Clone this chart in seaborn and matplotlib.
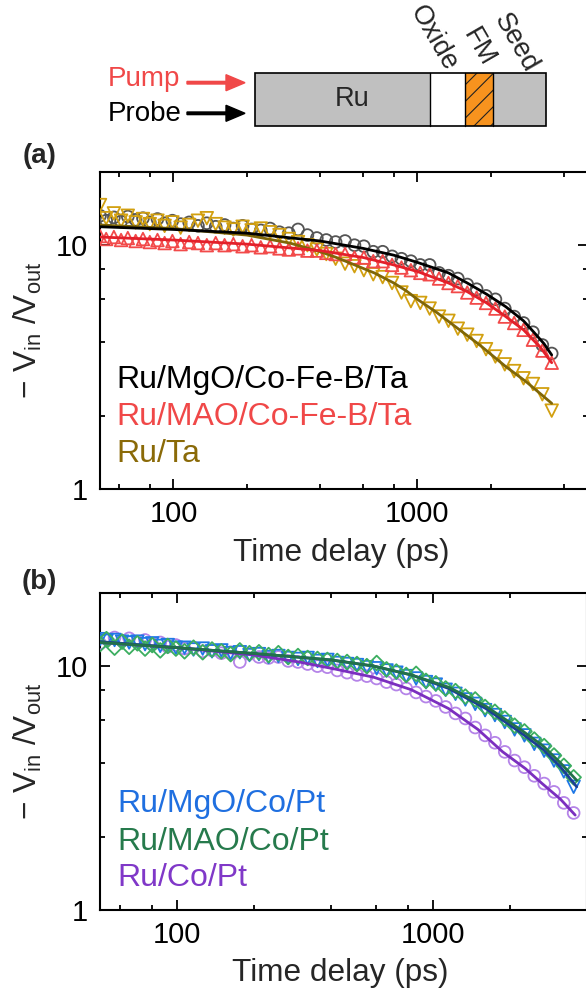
import matplotlib
matplotlib.use("Agg")
import matplotlib.pyplot as plt
import seaborn as sns
from matplotlib.patches import Rectangle
from matplotlib.ticker import NullFormatter

sns.set_style("ticks")
plt.rcParams["font.family"] = ["Liberation Sans", "DejaVu Sans"]
plt.rcParams["mathtext.fontset"] = "custom"
plt.rcParams["mathtext.rm"] = "Liberation Sans"
plt.rcParams["mathtext.it"] = "Liberation Sans"
plt.rcParams["mathtext.bf"] = "Liberation Sans:bold"
plt.rcParams["hatch.linewidth"] = 0.8

# ---------------- data ----------------
time_ps = [50, 53, 57, 61, 65, 70, 75, 80, 86, 92,
           99, 107, 116, 126, 137, 149, 162, 176, 192, 209,
           228, 249, 272, 297, 324, 354, 387, 423, 462, 505,
           552, 603, 659, 720, 787, 860, 940, 1027, 1122, 1226,
           1340, 1464, 1600, 1748, 1910, 2087, 2280, 2491, 2722, 2974,
           3250, 3550]

# panel (a)
mgo_cfb = [13.2, 12.6, 13.0, 12.5, 13.1, 12.7, 12.9, 12.4, 12.8, 12.3,
           12.6, 12.2, 12.4, 12.0, 12.3, 11.9, 12.1, 11.7, 12.0, 11.6,
           11.5, 11.7, 11.3, 11.2, 11.6, 11.0, 10.7, 10.5, 10.3, 10.4,
           10.0, 9.9, 9.4, 9.4, 9.0, 8.8, 8.6, 8.3, 8.3, 7.7,
           7.5, 7.3, 6.9, 6.6, 6.2, 6.0, 5.5, 5.1, 4.8, 4.4,
           3.9, 3.6]
mao_cfb = [10.9, 10.6, 10.8, 10.5, 10.7, 10.4, 10.6, 10.3, 10.5, 10.2,
           10.4, 10.1, 10.3, 10.2, 10.0, 10.2, 10.0, 10.1, 9.9, 10.0,
           9.8, 9.9, 9.7, 9.6, 9.7, 9.5, 9.5, 9.3, 9.2, 9.2,
           8.9, 8.9, 8.6, 8.6, 8.3, 8.1, 7.9, 7.7, 7.6, 7.3,
           7.0, 6.8, 6.4, 6.1, 5.8, 5.5, 5.1, 4.8, 4.5, 4.1,
           3.7, 3.3]
ru_ta = [14.6, 12.9, 13.5, 12.6, 13.2, 12.4, 12.8, 12.2, 12.6, 12.0,
         12.4, 11.8, 12.1, 12.6, 12.9, 12.2, 11.8, 11.6, 11.9, 11.5,
         11.7, 11.3, 11.0, 10.6, 10.3, 10.0, 9.6, 9.2, 8.8, 8.4,
         8.2, 7.9, 7.6, 7.4, 7.0, 6.4, 5.9, 5.8, 5.5, 5.1,
         4.9, 4.55, 4.3, 4.05, 3.75, 3.5, 3.25, 3.05, 2.85, 2.7,
         2.45, 2.1]

fit_mgo_cfb_t = [50, 100, 200, 400, 600, 800, 1000, 1340, 1600, 1920, 2300, 2720, 3000, 3300, 3550]
fit_mgo_cfb_v = [11.9, 11.6, 11.2, 10.4, 9.7, 9.1, 8.5, 7.7, 7.0, 6.3, 5.6, 4.9, 4.4, 3.95, 3.55]
fit_mao_cfb_t = [50, 100, 200, 400, 600, 800, 1000, 1340, 1600, 1920, 2300, 2720, 3200, 3550]
fit_mao_cfb_v = [10.8, 10.5, 10.1, 9.5, 8.9, 8.3, 7.8, 7.0, 6.45, 5.8, 5.1, 4.5, 3.8, 3.3]
fit_ru_ta_t = [50, 100, 200, 300, 400, 466, 665, 800, 900, 1000, 1200, 1467, 1800, 2285, 2800, 3550]
fit_ru_ta_v = [12.1, 11.7, 11.0, 10.2, 9.4, 8.9, 7.7, 7.0, 6.5, 6.0, 5.3, 4.55, 3.9, 3.2, 2.75, 2.25]

# panel (b)
mgo_copt = [12.9, 12.7, 12.8, 12.6, 12.5, 12.6, 12.3, 12.4, 12.1, 12.2,
            11.9, 11.9, 11.7, 11.8, 11.5, 11.6, 11.3, 11.4, 11.1, 11.2,
            10.9, 11.0, 10.8, 10.7, 10.8, 10.5, 10.6, 10.3, 10.2, 10.1,
            9.9, 9.8, 9.6, 9.4, 9.1, 8.9, 8.6, 8.4, 8.0, 7.7,
            7.3, 7.0, 6.6, 6.3, 5.9, 5.5, 5.2, 4.8, 4.5, 4.1,
            3.7, 3.2]
mao_copt = [12.3, 12.9, 11.9, 12.6, 12.0, 12.4, 11.8, 12.2, 11.6, 12.1,
            11.8, 11.5, 11.9, 11.4, 11.7, 11.5, 11.2, 11.6, 11.3, 11.4,
            11.1, 11.3, 10.9, 11.0, 10.8, 10.7, 10.6, 10.5, 10.4, 10.2,
            10.0, 10.3, 9.7, 9.5, 9.2, 9.3, 8.7, 8.5, 8.1, 7.9,
            7.5, 7.3, 6.8, 6.5, 6.1, 5.7, 5.4, 5.0, 4.7, 4.3,
            3.9, 3.5]
ru_copt = [12.4, 12.9, 13.1, 12.7, 13.0, 12.6, 12.8, 12.3, 12.5, 12.0,
           12.2, 11.8, 11.9, 11.5, 11.6, 11.3, 11.4, 10.4, 11.2, 10.9,
           10.8, 10.9, 10.5, 10.4, 10.2, 10.0, 9.9, 9.6, 9.4, 9.2,
           9.1, 8.9, 8.6, 8.4, 8.1, 7.8, 7.5, 7.2, 6.8, 6.4,
           6.1, 5.6, 5.2, 4.85, 4.45, 4.1, 3.85, 3.55, 3.3, 3.05,
           2.75, 2.5]

fit_mgo_copt_t = [50, 100, 215, 400, 588, 824, 1151, 1610, 2254, 2700, 3160, 3650]
fit_mgo_copt_v = [12.6, 11.9, 11.2, 10.6, 10.0, 9.2, 8.1, 6.7, 5.25, 4.55, 3.85, 3.2]
fit_mao_copt_t = [50, 100, 215, 400, 588, 824, 1151, 1610, 2254, 2700, 3160, 3650]
fit_mao_copt_v = [12.5, 11.9, 11.2, 10.6, 10.0, 9.2, 8.2, 6.85, 5.4, 4.7, 4.0, 3.4]
fit_ru_copt_t = [50, 100, 200, 300, 420, 588, 824, 1151, 1500, 1875, 2300, 2673, 3150, 3600]
fit_ru_copt_v = [12.5, 11.9, 11.1, 10.4, 9.7, 9.0, 8.0, 6.7, 5.5, 4.45, 3.8, 3.3, 2.85, 2.45]

labels_a = ["Ru/MgO/Co-Fe-B/Ta", "Ru/MAO/Co-Fe-B/Ta", "Ru/Ta"]
labels_b = ["Ru/MgO/Co/Pt", "Ru/MAO/Co/Pt", "Ru/Co/Pt"]
x_major = [100, 1000]
x_minor = [60, 80, 200, 400, 600, 800, 2000, 4000]
y_major = [1, 10]
y_minor = [2, 4, 6, 8]

# ---------------- figure ----------------
W, H = 586, 996
fig = plt.figure(figsize=(W / 100, H / 100), dpi=100)


def px_axes(left, top, right, bottom):
    return fig.add_axes([left / W, 1 - bottom / H, (right - left) / W, (bottom - top) / H])


def style_axes(ax, xmax):
    ax.set_xscale("log")
    ax.set_yscale("log")
    ax.set_xlim(50, xmax)
    ax.set_ylim(1, 20)
    ax.set_xticks(x_major, labels=[str(v) for v in x_major])
    ax.set_xticks(x_minor, minor=True)
    ax.set_yticks(y_major, labels=[str(v) for v in y_major])
    ax.set_yticks(y_minor, minor=True)
    ax.xaxis.set_minor_formatter(NullFormatter())
    ax.yaxis.set_minor_formatter(NullFormatter())
    ax.tick_params(which="both", direction="in", top=True, right=True,
                   width=1.3, colors="black")
    ax.tick_params(which="major", length=7.5, labelsize=21)
    ax.tick_params(which="minor", length=3.8)
    ax.tick_params(axis="x", which="major", pad=8)
    ax.tick_params(axis="y", which="major", pad=9)
    for s in ax.spines.values():
        s.set_linewidth(1.5)
        s.set_color("black")
    ax.set_xlabel("Time delay (ps)", fontsize=22.7)
    ax.set_ylabel(r"$-$ V$_\mathregular{in}$ /V$_\mathregular{out}$", fontsize=22.7)
    ax.xaxis.label.set_va("center")
    ax.yaxis.label.set_va("center")
    ax.grid(False)


def hollow(ax, x, y, marker, color, s, z):
    sns.scatterplot(x=x, y=y, ax=ax, marker=marker, s=s, facecolors="none",
                    edgecolor=color, linewidth=1.3, zorder=z, legend=False)


def fitline(ax, x, y, color, z):
    sns.lineplot(x=x, y=y, ax=ax, color=color, linewidth=2.0, zorder=z, legend=False)


# ---- panel (a)
axa = px_axes(100, 171.7, 588, 489.3)
hollow(axa, time_ps, mgo_cfb, "o", "#555555", 72, 3)
hollow(axa, time_ps, ru_ta, "v", "#d2a010", 82, 4)
hollow(axa, time_ps, mao_cfb, "^", "#f24a4a", 82, 5)
fitline(axa, fit_ru_ta_t, fit_ru_ta_v, "#7f6607", 6)
fitline(axa, fit_mao_cfb_t, fit_mao_cfb_v, "#e3202a", 7)
fitline(axa, fit_mgo_cfb_t, fit_mgo_cfb_v, "#000000", 8)
style_axes(axa, 5000)
axa.xaxis.set_label_coords(0.494, -0.2)
axa.yaxis.set_label_coords(-0.148, 0.5)
for lab, col, yb in zip(labels_a, ["#000000", "#f04848", "#8a6a08"], [0.319, 0.2025, 0.086]):
    axa.text(0.033, yb, lab, color=col, fontsize=23, transform=axa.transAxes,
             ha="left", va="baseline")

# ---- panel (b)
axb = px_axes(100, 592.7, 586.9, 910)
hollow(axb, time_ps, ru_copt, "o", "#b584e8", 72, 3)
hollow(axb, time_ps, mgo_copt, "v", "#1f78e6", 82, 4)
hollow(axb, time_ps, mao_copt, "D", "#3cae60", 56, 5)
fitline(axb, fit_ru_copt_t, fit_ru_copt_v, "#7b2fbf", 6)
fitline(axb, fit_mgo_copt_t, fit_mgo_copt_v, "#1c3f94", 7)
fitline(axb, fit_mao_copt_t, fit_mao_copt_v, "#22714a", 8)
style_axes(axb, 4000)
axb.xaxis.set_label_coords(0.494, -0.2)
axb.yaxis.set_label_coords(-0.148, 0.5)
for lab, col, yb in zip(labels_b, ["#1f6fe0", "#267a4c", "#8038c8"], [0.31, 0.189, 0.0756]):
    axb.text(0.036, yb, lab, color=col, fontsize=23, transform=axb.transAxes,
             ha="left", va="baseline")

fig.text(40 / W, 1 - 156 / H, "(a)", fontsize=20, fontweight="bold", ha="center", va="center")
fig.text(39 / W, 1 - 582 / H, "(b)", fontsize=20, fontweight="bold", ha="center", va="center")

# ---- schematic
ax0 = fig.add_axes([0, 1 - 140 / H, 1, 140 / H])
ax0.set_xlim(0, W)
ax0.set_ylim(140, 0)
ax0.axis("off")
top, hgt = 72.7, 53
ax0.add_patch(Rectangle((255, top), 175, hgt, fc="#c0c0c0", ec="none"))
ax0.add_patch(Rectangle((430, top), 35, hgt, fc="white", ec="none"))
ax0.add_patch(Rectangle((465, top), 28, hgt, fc="#f7931e", ec="#222222", lw=0, hatch="//"))
ax0.add_patch(Rectangle((493, top), 52.6, hgt, fc="#c0c0c0", ec="none"))
ax0.add_patch(Rectangle((255, top), 290.6, hgt, fill=False, ec="black", lw=1.2))
for xv in [430, 465, 493]:
    ax0.plot([xv, xv], [top, top + hgt], color="black", lw=1.0)
ax0.text(352, 99, "Ru", fontsize=19.5, ha="center", va="center")
ax0.text(108, 86, "Pump", fontsize=20, color="#f04848", ha="left", va="baseline")
ax0.text(108, 121, "Probe", fontsize=20, color="black", ha="left", va="baseline")
ax0.arrow(187, 82.7, 58, 0, width=2.6, head_width=16, head_length=19,
          length_includes_head=True, color="#f04848")
ax0.arrow(187, 113.3, 58, 0, width=2.6, head_width=16, head_length=19,
          length_includes_head=True, color="black")
for txt, cx, cy in [("Oxide", 434, 38), ("FM", 479, 47), ("Seed", 516, 43)]:
    ax0.text(cx, cy, txt, fontsize=19.5, rotation=-60, ha="center", va="center")

fig.savefig("out.png", dpi=100)
